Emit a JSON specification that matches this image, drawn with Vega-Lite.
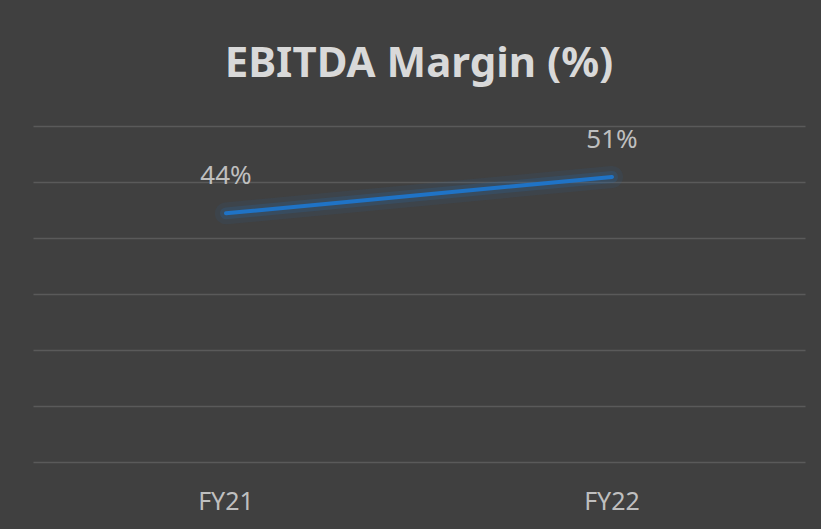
{
  "$schema": "https://vega.github.io/schema/vega-lite/v6.json",
  "autosize": "none",
  "width": 772,
  "height": 336,
  "padding": {"left": 33, "top": 126, "right": 16, "bottom": 67},
  "background": "#404040",
  "title": {
    "text": "EBITDA Margin (%)",
    "font": "Noto Sans",
    "fontSize": 42,
    "fontWeight": "bold",
    "color": "#d9d9d9",
    "anchor": "middle",
    "baseline": "alphabetic",
    "offset": 7
  },
  "config": {
    "view": {"stroke": null},
    "font": "Noto Sans"
  },
  "data": {
    "values": [
      {"year": "FY21", "margin": 0.444, "label": "44%"},
      {"year": "FY22", "margin": 0.509, "label": "51%"}
    ]
  },
  "encoding": {
    "x": {
      "field": "year",
      "type": "nominal",
      "scale": {"type": "band", "paddingInner": 0, "paddingOuter": 0},
      "axis": {
        "title": null,
        "labelAngle": 0,
        "labelFont": "Noto Sans",
        "labelFontSize": 25,
        "labelColor": "#bfbfbf",
        "labelPadding": 27,
        "labelBaseline": "top",
        "ticks": false,
        "domain": false,
        "grid": false
      }
    },
    "y": {
      "field": "margin",
      "type": "quantitative",
      "scale": {"domain": [0, 0.6], "nice": false, "zero": true},
      "axis": {
        "title": null,
        "labels": false,
        "ticks": false,
        "domain": false,
        "grid": true,
        "gridColor": "#5a5a5a",
        "gridWidth": 1.3,
        "values": [0, 0.1, 0.2, 0.3, 0.4, 0.5, 0.6]
      }
    }
  },
  "layer": [
    {"mark": {"type": "line", "color": "#2a6cb0", "strokeWidth": 22, "opacity": 0.1, "strokeCap": "round"}},
    {"mark": {"type": "line", "color": "#2a6cb0", "strokeWidth": 12, "opacity": 0.2, "strokeCap": "round"}},
    {"mark": {"type": "line", "color": "#1f73c6", "strokeWidth": 4, "strokeCap": "round"}},
    {
      "mark": {"type": "text", "dy": -37, "font": "Noto Sans", "fontSize": 26, "color": "#bfbfbf", "baseline": "middle"},
      "encoding": {"text": {"field": "label"}}
    }
  ]
}
